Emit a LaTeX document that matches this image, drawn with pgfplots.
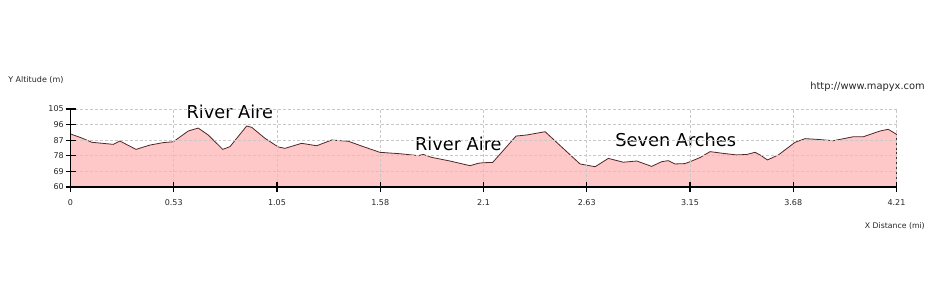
\documentclass[border=0pt]{standalone}
\usepackage{fontspec}
\setmainfont{DejaVu Sans}
\usepackage{pgfplots}
\pgfplotsset{compat=1.18}
\definecolor{fillpink}{RGB}{255,200,200}
\definecolor{linebrown}{RGB}{80,40,40}
\definecolor{gridgray}{RGB}{200,200,200}
\begin{document}
\begin{tikzpicture}[x=0.75pt,y=0.75pt]
\useasboundingbox (0,0) rectangle (935,300);
\begin{axis}[
  at={(52.875pt,84.75pt)}, anchor=south west,
  width=619.5pt, height=58.5pt, scale only axis,
  xmin=0, xmax=4.21, ymin=60, ymax=105,
  axis x line*=bottom, axis y line*=left,
  axis line style={black, line width=1pt},
  xtick={0,0.52625,1.0525,1.57875,2.105,2.63125,3.1575,3.68375,4.21},
  xticklabels={0,0.53,1.05,1.58,2.1,2.63,3.15,3.68,4.21},
  ytick={60,69,78,87,96,105},
  tick align=center, major tick length=7.5pt,
  tick style={black, line width=0.9pt},
  grid=major,
  major grid style={gridgray, dash pattern=on 2.2pt off 1.5pt, line width=0.5pt},
  axis on top,
  /pgf/number format/assume math mode=true,
  tick label style={font=\fontsize{6}{7}\selectfont, text=black!85},
  xticklabel style={yshift=-2.5pt},
  yticklabel style={xshift=2.2pt},
  clip=false,
]
\addplot[draw=linebrown, line width=0.6pt, fill=fillpink] coordinates {
(0,90.6) (0.057,88.3) (0.108,85.8) (0.218,84.6) (0.252,86.5) (0.334,81.7)
(0.405,84.2) (0.473,85.6) (0.524,86.1) (0.600,92.3) (0.651,94.0) (0.702,90.0)
(0.776,81.7) (0.813,83.3) (0.898,95.2) (0.924,94.4) (0.991,88.1) (1.059,83.1)
(1.093,82.3) (1.178,85.2) (1.255,83.8) (1.331,87.1) (1.416,86.4) (1.492,83.3)
(1.577,80.0) (1.679,79.2) (1.773,78.1) (1.798,78.8) (1.841,77.1) (1.934,75.0)
(2.036,72.3) (2.079,73.7) (2.104,74.0) (2.152,74.2) (2.271,89.4) (2.325,90.0)
(2.419,91.9) (2.597,73.3) (2.674,71.7) (2.741,76.5) (2.818,74.3) (2.886,75.0)
(2.962,71.9) (3.013,74.6) (3.047,75.2) (3.081,73.3) (3.132,73.5) (3.158,74.6)
(3.209,77.0) (3.260,80.4) (3.327,79.4) (3.396,78.5) (3.447,78.8) (3.489,80.0)
(3.515,78.5) (3.552,75.6) (3.608,78.5) (3.693,85.8) (3.744,87.9) (3.803,87.5)
(3.888,86.7) (3.990,89.0) (4.041,89.0) (4.126,92.3) (4.168,93.3) (4.21,90.4)
} \closedcycle;
\node[anchor=base, font=\fontsize{13.3}{15}\selectfont] at (axis cs:0.812,99.8) {River Aire};
\node[anchor=base, font=\fontsize{13.3}{15}\selectfont] at (axis cs:1.977,80.9) {River Aire};
\node[anchor=base, font=\fontsize{13.3}{15}\selectfont] at (axis cs:3.085,83.65) {Seven Arches};
\end{axis}
\node[anchor=west, inner sep=0pt, font=\fontsize{6}{7}\selectfont, text=black!85] at (8,220.5) {Y Altitude (m)};
\node[anchor=east, inner sep=0pt, font=\fontsize{7.4}{9}\selectfont, text=black!85] at (925,213.5) {http://www.mapyx.com};
\node[anchor=east, inner sep=0pt, font=\fontsize{5.8}{7}\selectfont, text=black!85] at (925,74) {X Distance (mi)};
\end{tikzpicture}
\end{document}
